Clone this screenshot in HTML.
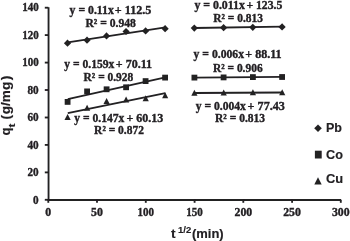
<!DOCTYPE html><html><head><meta charset="utf-8"><style>html,body{margin:0;padding:0;background:#fff}svg{display:block}text{font-family:"Liberation Serif",serif;font-weight:bold;fill:#222023;stroke:#222023;stroke-width:.35px}.s{font-family:"Liberation Sans",sans-serif;stroke-width:.15px}</style></head><body>
<svg width="350" height="241" viewBox="0 0 350 241">
<defs><filter id="b" x="0" y="0" width="350" height="241" filterUnits="userSpaceOnUse"><feGaussianBlur stdDeviation="0.38"/></filter></defs>
<rect width="350" height="241" fill="#fff"/>
<g filter="url(#b)">
<g stroke="#222023" stroke-width="1.85" fill="none">
<path d="M48.55 7.2V200.0H341.1"/>
<path d="M44.8 199.8H48.3"/>
<path d="M44.8 172.4H48.3"/>
<path d="M44.8 144.9H48.3"/>
<path d="M44.8 117.5H48.3"/>
<path d="M44.8 90.0H48.3"/>
<path d="M44.8 62.6H48.3"/>
<path d="M44.8 35.1H48.3"/>
<path d="M44.8 7.7H48.3"/>
<path d="M48.3 199.8V202.8"/>
<path d="M97.0 199.8V202.8"/>
<path d="M145.8 199.8V202.8"/>
<path d="M194.6 199.8V202.8"/>
<path d="M243.3 199.8V202.8"/>
<path d="M292.1 199.8V202.8"/>
<path d="M340.8 199.8V202.8"/>
</g>
<text x="33.1" y="203.5" font-size="11.7" textLength="5.6" lengthAdjust="spacingAndGlyphs">0</text>
<text x="27.5" y="176.0" font-size="11.7" textLength="11.2" lengthAdjust="spacingAndGlyphs">20</text>
<text x="27.5" y="148.6" font-size="11.7" textLength="11.2" lengthAdjust="spacingAndGlyphs">40</text>
<text x="27.5" y="121.1" font-size="11.7" textLength="11.2" lengthAdjust="spacingAndGlyphs">60</text>
<text x="27.5" y="93.7" font-size="11.7" textLength="11.2" lengthAdjust="spacingAndGlyphs">80</text>
<text x="22.2" y="66.2" font-size="11.7" textLength="16.5" lengthAdjust="spacingAndGlyphs">100</text>
<text x="22.2" y="38.7" font-size="11.7" textLength="16.5" lengthAdjust="spacingAndGlyphs">120</text>
<text x="22.2" y="11.3" font-size="11.7" textLength="16.5" lengthAdjust="spacingAndGlyphs">140</text>
<text x="45.3" y="216.3" font-size="11.7" textLength="5.9" lengthAdjust="spacingAndGlyphs">0</text>
<text x="91.1" y="216.3" font-size="11.7" textLength="11.8" lengthAdjust="spacingAndGlyphs">50</text>
<text x="137.6" y="216.3" font-size="11.7" textLength="16.5" lengthAdjust="spacingAndGlyphs">100</text>
<text x="186.3" y="216.3" font-size="11.7" textLength="16.5" lengthAdjust="spacingAndGlyphs">150</text>
<text x="234.5" y="216.3" font-size="11.7" textLength="17.7" lengthAdjust="spacingAndGlyphs">200</text>
<text x="283.2" y="216.3" font-size="11.7" textLength="17.7" lengthAdjust="spacingAndGlyphs">250</text>
<text x="331.9" y="216.3" font-size="11.7" textLength="17.7" lengthAdjust="spacingAndGlyphs">300</text>
<path d="M67.8 42.4L165.3 27.3" stroke="#222023" stroke-width="1.8"/>
<path d="M67.8 99.2L165.3 77.4" stroke="#222023" stroke-width="1.8"/>
<path d="M67.8 113.2L165.3 93.1" stroke="#222023" stroke-width="1.8"/>
<path d="M194.6 28.0L282.3 26.7" stroke="#222023" stroke-width="1.8"/>
<path d="M194.6 77.6L282.3 76.9" stroke="#222023" stroke-width="1.8"/>
<path d="M194.6 93.0L282.3 92.5" stroke="#222023" stroke-width="1.8"/>
<path d="M63.9 43.2L67.5 39.6L71.1 43.2L67.5 46.8Z" fill="#222023"/>
<path d="M83.5 40.2L87.0 36.6L90.6 40.2L87.0 43.8Z" fill="#222023"/>
<path d="M103.0 35.9L106.5 32.3L110.1 35.9L106.5 39.5Z" fill="#222023"/>
<path d="M122.5 31.5L126.0 27.9L129.7 31.5L126.0 35.1Z" fill="#222023"/>
<path d="M142.0 30.9L145.6 27.3L149.2 30.9L145.6 34.5Z" fill="#222023"/>
<path d="M161.5 28.7L165.1 25.1L168.7 28.7L165.1 32.3Z" fill="#222023"/>
<path d="M190.7 28.1L194.3 24.5L197.9 28.1L194.3 31.7Z" fill="#222023"/>
<path d="M220.0 27.7L223.6 24.1L227.2 27.7L223.6 31.3Z" fill="#222023"/>
<path d="M249.2 27.3L252.8 23.7L256.4 27.3L252.8 30.9Z" fill="#222023"/>
<path d="M278.4 26.9L282.1 23.3L285.7 26.9L282.1 30.5Z" fill="#222023"/>
<rect x="64.7" y="99.0" width="5.8" height="5.8" fill="#222023"/>
<rect x="84.2" y="88.5" width="5.8" height="5.8" fill="#222023"/>
<rect x="103.7" y="86.4" width="5.8" height="5.8" fill="#222023"/>
<rect x="123.2" y="84.4" width="5.8" height="5.8" fill="#222023"/>
<rect x="142.7" y="78.2" width="5.8" height="5.8" fill="#222023"/>
<rect x="162.2" y="74.7" width="5.8" height="5.8" fill="#222023"/>
<rect x="191.5" y="74.7" width="5.8" height="5.8" fill="#222023"/>
<rect x="220.7" y="74.5" width="5.8" height="5.8" fill="#222023"/>
<rect x="250.0" y="74.2" width="5.8" height="5.8" fill="#222023"/>
<rect x="279.2" y="74.1" width="5.8" height="5.8" fill="#222023"/>
<path d="M64.5 120.1L67.6 114.1L70.7 120.1Z" fill="#222023"/>
<path d="M84.0 110.8L87.1 104.8L90.2 110.8Z" fill="#222023"/>
<path d="M103.5 103.9L106.6 97.9L109.7 103.9Z" fill="#222023"/>
<path d="M123.0 102.4L126.1 96.4L129.2 102.4Z" fill="#222023"/>
<path d="M142.6 101.3L145.7 95.3L148.8 101.3Z" fill="#222023"/>
<path d="M162.1 98.2L165.2 92.2L168.2 98.2Z" fill="#222023"/>
<path d="M191.3 95.7L194.4 89.7L197.5 95.7Z" fill="#222023"/>
<path d="M220.6 95.4L223.7 89.4L226.8 95.4Z" fill="#222023"/>
<path d="M249.8 95.3L252.9 89.3L256.0 95.3Z" fill="#222023"/>
<path d="M279.1 95.2L282.2 89.2L285.3 95.2Z" fill="#222023"/>
<text x="69.6" y="14.1" font-size="11.5" textLength="44.2" lengthAdjust="spacingAndGlyphs">y = 0.11x</text>
<text x="114.8" y="14.1" font-size="11.5" textLength="36.6" lengthAdjust="spacingAndGlyphs">+ 112.5</text>
<text x="85.4" y="27.2" font-size="11.5" textLength="50.5" lengthAdjust="spacingAndGlyphs">R² = 0.948</text>
<text x="64.3" y="67.6" font-size="11.5" textLength="50.1" lengthAdjust="spacingAndGlyphs">y = 0.159x</text>
<text x="115.8" y="67.6" font-size="11.5" textLength="36.2" lengthAdjust="spacingAndGlyphs">+ 70.11</text>
<text x="83.6" y="81.3" font-size="11.5" textLength="49.7" lengthAdjust="spacingAndGlyphs">R² = 0.928</text>
<text x="74.2" y="121.8" font-size="11.5" textLength="50.2" lengthAdjust="spacingAndGlyphs">y = 0.147x</text>
<text x="126.4" y="121.8" font-size="11.5" textLength="36.9" lengthAdjust="spacingAndGlyphs">+ 60.13</text>
<text x="94.1" y="134.0" font-size="11.5" textLength="49.8" lengthAdjust="spacingAndGlyphs">R² = 0.872</text>
<text x="194.4" y="8.6" font-size="11.5" textLength="50.5" lengthAdjust="spacingAndGlyphs">y = 0.011x</text>
<text x="246.4" y="8.6" font-size="11.5" textLength="36.0" lengthAdjust="spacingAndGlyphs">+ 123.5</text>
<text x="213.3" y="22.2" font-size="11.5" textLength="49.7" lengthAdjust="spacingAndGlyphs">R² = 0.813</text>
<text x="193.6" y="58.1" font-size="11.5" textLength="50.4" lengthAdjust="spacingAndGlyphs">y = 0.006x</text>
<text x="245.3" y="58.1" font-size="11.5" textLength="36.3" lengthAdjust="spacingAndGlyphs">+ 88.11</text>
<text x="213" y="71.6" font-size="11.5" textLength="49.6" lengthAdjust="spacingAndGlyphs">R² = 0.906</text>
<text x="195.7" y="110.0" font-size="11.5" textLength="50.2" lengthAdjust="spacingAndGlyphs">y = 0.004x</text>
<text x="247.6" y="110.0" font-size="11.5" textLength="37.3" lengthAdjust="spacingAndGlyphs">+ 77.43</text>
<text x="215" y="122.4" font-size="11.5" textLength="50.1" lengthAdjust="spacingAndGlyphs">R² = 0.813</text>
<path d="M314.2 128.3L318.0 124.5L321.8 128.3L318.0 132.1Z" fill="#222023"/>
<text class="s" x="326.0" y="132" font-size="12.6" textLength="16.0" lengthAdjust="spacingAndGlyphs">Pb</text>
<rect x="314.9" y="150.7" width="6.8" height="7.8" fill="#222023"/>
<text class="s" x="326.0" y="158.5" font-size="12.6" textLength="16.9" lengthAdjust="spacingAndGlyphs">Co</text>
<path d="M314.3 184.5L318 177.2L321.7 184.5Z" fill="#222023"/>
<text class="s" x="326.0" y="183.1" font-size="12.6" textLength="17.2" lengthAdjust="spacingAndGlyphs">Cu</text>
<g transform="rotate(-90)">
<text class="s" x="-135.4" y="9.6" font-size="12.5" textLength="8.0" lengthAdjust="spacingAndGlyphs">q</text>
<text class="s" x="-127.4" y="15.2" font-size="9" textLength="4.0" lengthAdjust="spacingAndGlyphs">t</text>
<text class="s" x="-119.6" y="9.6" font-size="12.5" textLength="4.6" lengthAdjust="spacingAndGlyphs">(</text>
<text class="s" x="-114.2" y="9.6" font-size="12.5" textLength="32.4" lengthAdjust="spacingAndGlyphs">g/mg</text>
<text class="s" x="-80.2" y="9.6" font-size="12.5" textLength="4.6" lengthAdjust="spacingAndGlyphs">)</text>
</g>
<text class="s" x="171" y="237.5" font-size="12.3" textLength="4.6" lengthAdjust="spacingAndGlyphs">t</text>
<text class="s" x="178" y="232.6" font-size="9.5" textLength="13.2" lengthAdjust="spacingAndGlyphs">1/2</text>
<text class="s" x="192" y="237.5" font-size="12.3" textLength="31.7" lengthAdjust="spacingAndGlyphs">(min)</text>
</g></svg></body></html>
